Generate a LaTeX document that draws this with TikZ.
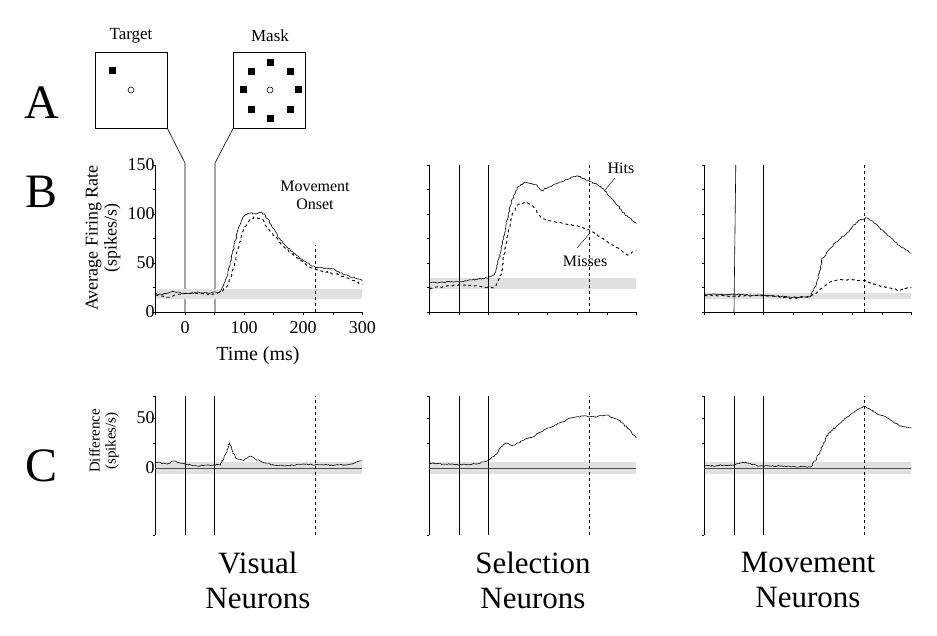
\documentclass[tikz,border=0pt]{standalone}
\usepackage{fontspec}
\setmainfont{Liberation Serif}
\usetikzlibrary{decorations.pathmorphing}

\tikzset{
  trace/.style={line width=0.6pt, decorate, decoration={random steps, segment length=1.6pt, amplitude=0.7pt}},
  hit/.style={trace},
  miss/.style={trace, dashed, line width=0.9pt},
  band/.style={fill=black!12, draw=none},
  onset/.style={dashed, line width=0.5pt},
  event/.style={line width=0.6pt},
  tick/.style={line width=0.4pt},
  stim/.style={draw, line width=0.6pt, minimum width=72pt, minimum height=76pt, inner sep=0pt},
  dot/.style={fill=black, minimum size=7pt, inner sep=0pt},
  num/.style={font=\fontsize{18}{18}\selectfont},
  panel/.style={font=\fontsize{48}{48}\selectfont},
  group/.style={font=\fontsize{31}{35}\selectfont, align=center, anchor=north, inner sep=0pt},
}

% axes of one rate panel (B), drawn in ms / spikes/s
\newcommand\rateaxes{%
  \draw[tick] (-50,0) -- (300,0);
  \draw[tick] (-50,0) -- (-50,150);
  \foreach \r in {0,25,...,150} \draw[tick] (-50,\r) -- +(-4,0);
  \foreach \t in {-50,0,...,300} \draw[tick] (\t,0) -- +(0,-3);
}
% axes of one difference panel (C)
\newcommand\diffaxes{%
  \draw[tick] (-50,-67) -- (-50,72);
  \foreach \r in {-67,25,50,72} \draw[tick] (-50,\r) -- +(-4,0);
  \draw[black!70, line width=0.9pt] (-50,0) -- (300,0);
  \draw[event] (0,-67) -- (0,72);
  \draw[event] (50,-67) -- (50,72);
  \draw[onset] (220,-67) -- (220,72);
}

\begin{document}
\begin{tikzpicture}[x=1pt, y=-1pt]
\useasboundingbox (0,0) rectangle (937,636);

% panel letters
\node[panel] (la) at (42,103) {A};
\node[panel] (lb) at (42,192) {B};
\node[panel] (lc) at (42,466) {C};

% stimulus displays
\node[stim] (target) at (131,90) {};
\node[stim] (mask) at (269.5,90) {};
\node[font=\fontsize{17}{17}\selectfont] (ttarget) at (131,36) {Target};
\node[font=\fontsize{17}{17}\selectfont] (tmask) at (270,36) {Mask};
\node[dot] (t1) at (112,71) {};
\draw[line width=0.6pt] (131,90) circle (3);
\draw[line width=0.6pt] (270,90) circle (3);
\foreach \px/\py in {270/63, 270/119, 243/90, 298/90, 251/72, 290/72, 251/110, 290/110}
  \node[dot] at (\px,\py) {};

% event lines from the displays
\coordinate (ton) at (185,163);
\coordinate (mon) at (215,163);
\draw[event] (target.south east) -- (ton) -- (185,312);
\draw[event] (mask.south west) -- (mon) -- (215,312);

% ---------------- B: visual
\begin{scope}[shift={(185,312)}, x=0.591pt, y=0.98pt]
  \fill[band] (-50,13) rectangle (300,23);
  \rateaxes
  \foreach \r in {0,50,100,150} \node[left, inner sep=0pt, num] at (-51,\r) {\r};
  \foreach \t in {0,100,200,300} \node[below, num] at (\t,-6) {\t};
  \draw[onset] (220,0) -- (220,68);
  \draw[hit] plot coordinates {(-50,19)(-40,18)(-20,21)(0,19)(20,20)(40,19)(60,21)(70,35)(80,60)(90,85)(100,98)(110,101)(120,100)(130,102)(140,95)(150,85)(160,75)(180,62)(200,52)(220,46)(250,44)(270,38)(300,32)};
  \draw[miss] plot coordinates {(-50,17)(-30,15)(0,19)(20,19)(50,18)(60,20)(70,25)(80,40)(90,65)(100,85)(110,95)(120,97)(130,95)(140,85)(150,78)(170,65)(190,55)(210,46)(230,42)(260,38)(280,33)(300,28)};
\end{scope}
\node[font=\fontsize{16}{18}\selectfont, align=center] (onsetlab) at (315,195) {Movement\\Onset};
\node[font=\fontsize{20}{20}\selectfont] (timelab) at (258,356) {Time (ms)};
\node[rotate=90, font=\fontsize{18}{19}\selectfont, align=center] (ratelab) at (103,238) {Average Firing Rate\\(spikes/s)};

% ---------------- B: selection
\begin{scope}[shift={(459,312)}, x=0.591pt, y=0.98pt]
  \fill[band] (-50,23) rectangle (300,35);
  \rateaxes
  \draw[event] (0,0) -- (0,150);
  \draw[event] (50,0) -- (50,150);
  \draw[onset] (220,0) -- (220,150);
  \draw[hit] plot coordinates {(-50,30)(0,31)(50,35)(60,38)(70,60)(80,90)(90,115)(100,128)(110,132)(130,130)(140,124)(160,130)(180,135)(200,139)(220,134)(240,128)(260,115)(280,100)(300,90)};
  \draw[miss] plot coordinates {(-50,24)(0,28)(50,25)(60,25)(70,35)(80,70)(90,100)(100,110)(115,112)(125,108)(140,95)(160,92)(200,88)(220,84)(250,72)(270,65)(285,58)(300,63)};
\end{scope}
\node[font=\fontsize{16}{16}\selectfont] (hits) at (621,168) {Hits};
\node[font=\fontsize{16}{16}\selectfont] (misses) at (585,261) {Misses};
\coordinate (hitpt) at (605,190);
\coordinate (misspt) at (590,233);
\draw[line width=0.4pt] (615,178) -- (hitpt);
\draw[line width=0.4pt] (577,248) -- (misspt);

% ---------------- B: movement
\begin{scope}[shift={(734,312)}, x=0.591pt, y=0.98pt]
  \fill[band] (-50,13) rectangle (300,19);
  \rateaxes
  \draw[event] (0,0) -- (3,150);
  \draw[event] (50,0) -- (50,150);
  \draw[onset] (220,0) -- (220,150);
  \draw[hit] plot coordinates {(-50,18)(0,18)(50,17)(100,15)(130,16)(140,30)(150,55)(170,70)(190,80)(210,93)(225,96)(240,90)(260,78)(280,68)(300,60)};
  \draw[miss] plot coordinates {(-50,17)(0,16)(50,17)(100,14)(130,16)(145,22)(160,30)(180,33)(200,33)(220,32)(240,28)(260,25)(280,22)(300,25)};
\end{scope}

% ---------------- C: differences
\begin{scope}[shift={(185,468)}, x=0.591pt, y=1pt]
  \fill[band] (-50,-6) rectangle (300,6);
  \diffaxes
  \node[left, inner sep=0pt, num] at (-51,50) {50};
  \node[left, inner sep=0pt, num] at (-51,0) {0};
  \draw[hit] plot coordinates {(-50,6)(-30,4)(-20,7)(0,4)(20,2)(40,3)(60,3)(70,15)(75,25)(85,10)(100,8)(110,12)(130,6)(150,3)(170,2)(200,4)(240,3)(270,3)(300,7)};
\end{scope}
\node[rotate=90, font=\fontsize{15}{16}\selectfont, align=center] (difflab) at (104,441) {Difference\\(spikes/s)};
\begin{scope}[shift={(459,468)}, x=0.591pt, y=1pt]
  \fill[band] (-50,-6) rectangle (300,6);
  \diffaxes
  \draw[hit] plot coordinates {(-50,5)(0,3)(30,4)(50,8)(60,12)(70,20)(80,25)(90,22)(110,28)(130,33)(150,40)(170,45)(190,50)(210,52)(230,51)(250,53)(270,48)(285,40)(300,30)};
\end{scope}
\begin{scope}[shift={(734,468)}, x=0.591pt, y=1pt]
  \fill[band] (-50,-6) rectangle (300,6);
  \diffaxes
  \draw[hit] plot coordinates {(-50,2)(0,3)(20,6)(40,2)(80,2)(130,1)(140,10)(160,35)(180,45)(200,55)(220,62)(240,55)(260,50)(280,42)(300,40)};
\end{scope}

% neuron classes
\node[group] (vis) at (258,552) {Visual\\Neurons};
\node[group] (sel) at (533,552) {Selection\\Neurons};
\node[group] (mov) at (808,552) {Movement\\Neurons};
\end{tikzpicture}
\end{document}
